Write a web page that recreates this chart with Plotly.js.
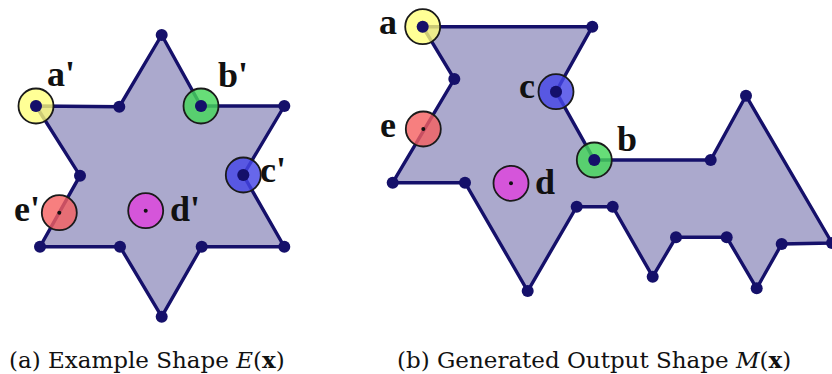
<!DOCTYPE html>
<html>
<head>
<meta charset="utf-8">
<script src="https://cdn.plot.ly/plotly-3.0.1.min.js"></script>
<style>html,body{margin:0;padding:0;background:#fff;}#chart{width:832px;height:374px;}</style>
</head>
<body>
<div id="chart"></div>
<script>
// Left panel: example star shape E(x) (vertex coordinates)
const starX = [161.7, 201, 284.3, 243.3, 284.3, 201.7, 161.7, 120, 40, 80, 36, 119.3];
const starY = [35, 106, 106, 175, 246.7, 246.7, 316.7, 246.7, 246.7, 175.7, 106, 106.7];
// Right panel: generated output shape M(x)
const shapeX = [422.7, 592.3, 556, 594.3, 710.7, 746, 832, 781.7, 756.7, 726.7, 676, 652.7, 612.7, 576.7, 527.7, 465, 392.7, 454.3];
const shapeY = [26.7, 26.7, 91.7, 160, 160, 95.7, 243, 244, 288.3, 237.3, 237.3, 276.7, 206.7, 206.7, 291, 182.7, 182.7, 79];
// Correspondence markers
const corrLabelsE = ["a'", "b'", "c'", "d'", "e'"];
const corrXE = [36, 201, 243.3, 145.7, 59.3];
const corrYE = [106, 106, 175, 210.7, 212.7];
const corrLabelsM = ["a", "b", "c", "d", "e"];
const corrXM = [422.7, 594.3, 556, 511, 423.3];
const corrYM = [26.7, 160, 91.7, 183.3, 129];
const corrColors = ["rgba(255,255,120,0.78)", "rgba(70,215,90,0.82)", "rgba(70,70,230,0.82)", "rgba(220,70,220,0.85)", "rgba(245,95,95,0.8)"];
const onVertex = [true, true, true, false, false];
const labelXE = [61, 233, 273, 185, 27];
const labelYE = [74, 75, 170, 209, 209];
const labelXM = [388, 627, 527, 545, 388];
const labelYM = [22, 139, 86, 182, 125];
const captions = ["(a) Example Shape <i>E</i>(<b>x</b>)", "(b) Generated Output Shape <i>M</i>(<b>x</b>)"];
const captionX = [7, 395];
const captionY = [359, 359];

const navy = "#15106a";
const fillCol = "rgb(171,169,205)";
const traces = [];
function poly(xs, ys) {
  traces.push({x: xs.concat([xs[0]]), y: ys.concat([ys[0]]), mode: "lines", fill: "toself",
    fillcolor: fillCol, line: {color: navy, width: 3.4}, hoverinfo: "skip", showlegend: false});
  traces.push({x: xs, y: ys, mode: "markers", marker: {color: navy, size: 12}, hoverinfo: "skip", showlegend: false});
}
poly(starX, starY);
poly(shapeX, shapeY);
function corr(xs, ys) {
  traces.push({x: xs, y: ys, mode: "markers", marker: {color: corrColors, size: 35, line: {color: "#1a1a1a", width: 1.8}},
    hoverinfo: "skip", showlegend: false});
  const vx = [], vy = [], cx = [], cy = [];
  xs.forEach((v, i) => { if (onVertex[i]) { vx.push(v); vy.push(ys[i]); } else { cx.push(v); cy.push(ys[i]); } });
  traces.push({x: vx, y: vy, mode: "markers", marker: {color: navy, size: 12}, hoverinfo: "skip", showlegend: false});
  traces.push({x: cx, y: cy, mode: "markers", marker: {color: "#111", size: 4}, hoverinfo: "skip", showlegend: false});
}
corr(corrXE, corrYE);
corr(corrXM, corrYM);

const annotations = [];
const lblFont = {family: "Liberation Serif", size: 36, color: "#111"};
corrLabelsE.forEach((t, i) => annotations.push({x: labelXE[i], y: labelYE[i], xref: "x", yref: "y", text: "<b>" + t + "</b>", showarrow: false, font: lblFont}));
corrLabelsM.forEach((t, i) => annotations.push({x: labelXM[i], y: labelYM[i], xref: "x", yref: "y", text: "<b>" + t + "</b>", showarrow: false, font: lblFont}));
captions.forEach((t, i) => annotations.push({x: captionX[i], y: captionY[i], xref: "x", yref: "y", xanchor: "left", yanchor: "middle",
  text: t, showarrow: false, font: {family: "DejaVu Serif", size: 23, color: "#111"}}));

const layout = {
  width: 832, height: 374,
  margin: {l: 0, r: 0, t: 0, b: 0},
  paper_bgcolor: "#fff", plot_bgcolor: "#fff",
  xaxis: {range: [0, 832], visible: false, fixedrange: true},
  yaxis: {range: [374, 0], visible: false, fixedrange: true},
  annotations: annotations,
  showlegend: false
};
Plotly.newPlot("chart", traces, layout, {staticPlot: true, displayModeBar: false});
</script>
</body>
</html>
